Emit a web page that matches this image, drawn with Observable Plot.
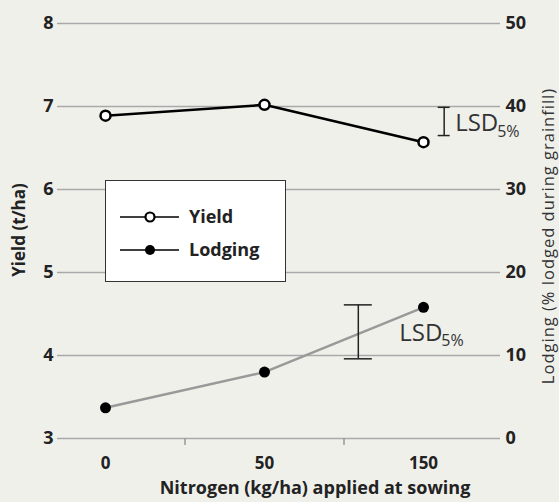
<!DOCTYPE html>
<html>
<head>
<meta charset="utf-8">
<script src="https://cdn.jsdelivr.net/npm/d3@7"></script>
<script src="https://cdn.jsdelivr.net/npm/@observablehq/plot@0.6"></script>
<style>
  html, body { margin: 0; padding: 0; background: #f0f0eb; }
  #wrap { position: relative; width: 559px; height: 502px; background: #f0f0eb; font-family: "Open Sans", sans-serif; }
  #legend { position: absolute; left: 105px; top: 180px; width: 179px; height: 100px; background: #fff; border: 1.5px solid #333; }
  #legend svg { position: absolute; left: 0; top: 0; }
</style>
</head>
<body>
<div id="wrap"></div>
<script>
// ---- data ----
const categories = ["0", "50", "150"];              // Nitrogen (kg/ha) applied at sowing
const yieldValues = [6.89, 7.02, 6.57];             // t/ha
const lodgingValues = [3.7, 8.0, 15.8];             // % lodged during grainfill
const yieldTicks = [3, 4, 5, 6, 7, 8];
const lodgingTicks = [0, 10, 20, 30, 40, 50];
const lsdYield = {pos: 2.13, low: 6.65, high: 6.99};      // LSD 5% bar for yield
const lsdLodging = {pos: 1.59, low: 9.6, high: 16.1};      // LSD 5% bar for lodging
const legendItems = ["Yield", "Lodging"];
const rightTitle = "Lodging (% lodged during grainfill)";

// lodging (%) mapped onto the yield axis: 0% -> 3 t/ha, 50% -> 8 t/ha
const lodgingToY = v => 3 + v / 10;
const yToLodging = y => lodgingTicks[yieldTicks.indexOf(y)];

const yieldData = categories.map((c, i) => ({i, v: yieldValues[i]}));
const lodgingData = categories.map((c, i) => ({i, v: lodgingToY(lodgingValues[i])}));
const lsdY = [{x: lsdYield.pos, y1: lsdYield.low, y2: lsdYield.high}];
const lsdL = [{x: lsdLodging.pos, y1: lodgingToY(lsdLodging.low), y2: lodgingToY(lsdLodging.high)}];
const mid = d => (d.y1 + d.y2) / 2;

const font = "Open Sans, sans-serif";

const chart = Plot.plot({
  width: 559,
  height: 502,
  marginLeft: 57,
  marginRight: 59,
  marginTop: 23,
  marginBottom: 64,
  style: {background: "transparent", fontFamily: font, fontSize: "18px", color: "#222"},
  x: {domain: [0, 2], range: [105, 423]},
  y: {domain: [3, 8]},
  marks: [
    Plot.ruleY(yieldTicks, {stroke: "#a9a9a9", strokeWidth: 1.5}),
    Plot.axisY({ticks: yieldTicks, anchor: "left", tickSize: 0, tickPadding: 4, tickFormat: d => String(d), fontWeight: "bold", fontSize: 18, fill: "#222", label: null}),
    Plot.axisY({ticks: yieldTicks, anchor: "right", tickSize: 0, tickPadding: 5, tickFormat: yToLodging, fontWeight: "bold", fontSize: 18, fill: "#222", label: null}),
    Plot.axisX({ticks: [0.5, 1.5], tickSize: 7, tickFormat: () => "", stroke: "#999", strokeWidth: 1.5, label: null}),
    Plot.axisX({ticks: [0, 1, 2], tickSize: 0, tickPadding: 18, tickFormat: i => categories[i], fontWeight: "bold", fontSize: 17, fill: "#222", label: null}),
    // axis titles
    Plot.text(["Yield (t/ha)"], {frameAnchor: "left", textAnchor: "middle", rotate: -90, dx: -38, dy: -1, fontWeight: "bold", fontSize: 17, fill: "#222"}),
    Plot.text([rightTitle], {frameAnchor: "right", textAnchor: "middle", rotate: -90, dx: 48, dy: 5, fontSize: 16.5, fill: "#333"}),
    Plot.text(["Nitrogen (kg/ha) applied at sowing"], {frameAnchor: "bottom", textAnchor: "middle", dx: 36, dy: 55, fontWeight: "bold", fontSize: 18, fill: "#222"}),
    // lodging series
    Plot.line(lodgingData, {x: "i", y: "v", stroke: "#999", strokeWidth: 2.5}),
    Plot.dot(lodgingData, {x: "i", y: "v", r: 5.5, fill: "#000", stroke: "none"}),
    // yield series
    Plot.line(yieldData, {x: "i", y: "v", stroke: "#000", strokeWidth: 2.5}),
    Plot.dot(yieldData, {x: "i", y: "v", r: 5, fill: "#fff", stroke: "#000", strokeWidth: 2.5}),
    // LSD bars
    Plot.ruleX(lsdY, {x: "x", y1: "y1", y2: "y2", stroke: "#222", strokeWidth: 1.5}),
    Plot.ruleY(lsdY, {y: "y1", x1: "x", x2: "x", insetLeft: -6, insetRight: -6, stroke: "#222", strokeWidth: 1.5}),
    Plot.ruleY(lsdY, {y: "y2", x1: "x", x2: "x", insetLeft: -6, insetRight: -6, stroke: "#222", strokeWidth: 1.5}),
    Plot.ruleX(lsdL, {x: "x", y1: "y1", y2: "y2", stroke: "#222", strokeWidth: 1.5}),
    Plot.ruleY(lsdL, {y: "y1", x1: "x", x2: "x", insetLeft: -14, insetRight: -14, stroke: "#222", strokeWidth: 1.5}),
    Plot.ruleY(lsdL, {y: "y2", x1: "x", x2: "x", insetLeft: -14, insetRight: -14, stroke: "#222", strokeWidth: 1.5}),
    // LSD labels
    Plot.text(lsdY, {x: "x", y: mid, text: () => "LSD", textAnchor: "start", dx: 11, dy: 2, fontSize: 24, fill: "#333"}),
    Plot.text(lsdY, {x: "x", y: mid, text: () => "5%", textAnchor: "start", dx: 53, dy: 10, fontSize: 16, fill: "#333"}),
    Plot.text(lsdL, {x: "x", y: mid, text: () => "LSD", textAnchor: "start", dx: 41, dy: 1, fontSize: 24, fill: "#333"}),
    Plot.text(lsdL, {x: "x", y: mid, text: () => "5%", textAnchor: "start", dx: 83, dy: 9, fontSize: 16, fill: "#333"})
  ]
});

// widen the right-hand title slightly, as in the reference
d3.select(chart).selectAll("text").filter(function() { return this.textContent === rightTitle; })
  .style("letter-spacing", "1px");

const wrap = document.getElementById("wrap");
wrap.appendChild(chart);

// legend (overlaid inside the plot area)
const legend = document.createElement("div");
legend.id = "legend";
const ns = "http://www.w3.org/2000/svg";
const lsvg = document.createElementNS(ns, "svg");
lsvg.setAttribute("width", 179);
lsvg.setAttribute("height", 100);
legendItems.forEach((name, k) => {
  const cy = 36 + k * 33;
  const line = document.createElementNS(ns, "line");
  line.setAttribute("x1", 14); line.setAttribute("x2", 73);
  line.setAttribute("y1", cy); line.setAttribute("y2", cy);
  line.setAttribute("stroke", "#000"); line.setAttribute("stroke-width", 1.5);
  lsvg.appendChild(line);
  const c = document.createElementNS(ns, "circle");
  c.setAttribute("cx", 44); c.setAttribute("cy", cy);
  if (k === 0) {
    c.setAttribute("r", 4.5); c.setAttribute("fill", "#fff"); c.setAttribute("stroke", "#000"); c.setAttribute("stroke-width", 2.2);
  } else {
    c.setAttribute("r", 5); c.setAttribute("fill", "#000");
  }
  lsvg.appendChild(c);
  const t = document.createElementNS(ns, "text");
  t.setAttribute("x", 83); t.setAttribute("y", cy);
  t.setAttribute("dy", "0.35em");
  t.setAttribute("font-family", font);
  t.setAttribute("font-weight", "bold");
  t.setAttribute("font-size", 18);
  t.setAttribute("fill", "#222");
  t.textContent = name;
  lsvg.appendChild(t);
});
legend.appendChild(lsvg);
wrap.appendChild(legend);
</script>
</body>
</html>
